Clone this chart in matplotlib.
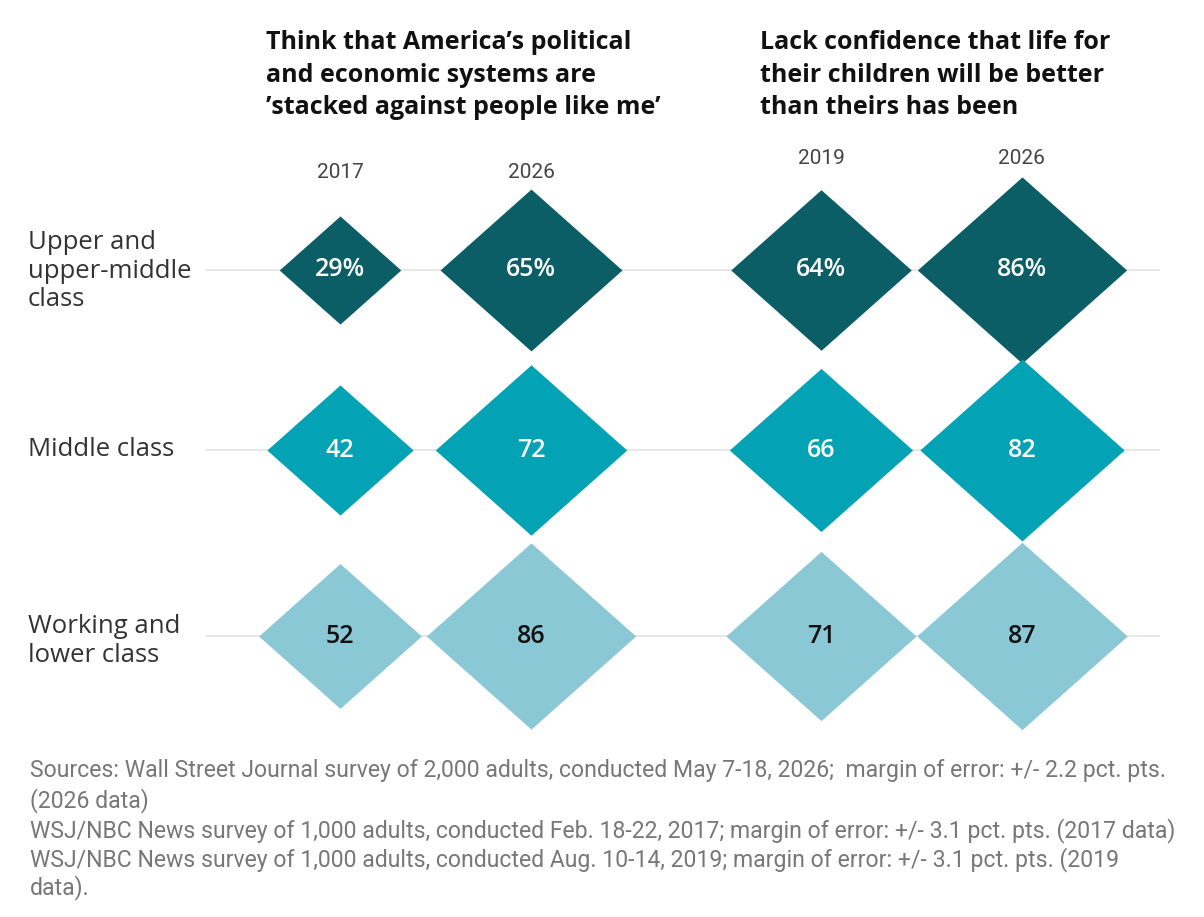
import matplotlib
matplotlib.use("Agg")
import matplotlib.pyplot as plt
from matplotlib.path import Path
import numpy as np

# ---- data ----
rows = ["Upper and\nupper-middle\nclass", "Middle class", "Working and\nlower class"]
col_years = ["2017", "2026", "2019", "2026"]
stacked_2017 = [29, 42, 52]
stacked_2026 = [65, 72, 86]
lackconf_2019 = [64, 66, 71]
lackconf_2026 = [86, 82, 87]
title_left = "Think that America\u2019s political\nand economic systems are\n\u2019stacked against people like me\u2019"
title_right = "Lack confidence that life for\ntheir children will be better\nthan theirs has been"
footnote = [
    "Sources: Wall Street Journal survey of 2,000 adults, conducted May 7-18, 2026;  margin of error: +/- 2.2 pct. pts.",
    "(2026 data)",
    "WSJ/NBC News survey of 1,000 adults, conducted Feb. 18-22, 2017; margin of error: +/- 3.1 pct. pts. (2017 data)",
    "WSJ/NBC News survey of 1,000 adults, conducted Aug. 10-14, 2019; margin of error: +/- 3.1 pct. pts. (2019",
    "data).",
]

# ---- layout / style ----
W, H = 1204, 917
DPI = 100
row_colors = ["#0b5e66", "#03a2b5", "#8bc8d5"]
text_colors = ["white", "white", "#111111"]
col_x = [0.0, 1.0, 2.52, 3.57]
row_y = [0.0, 0.98, 1.99]
px_x0, px_unit_x = 340, 191
px_y0, px_unit_y = 270, 184

SANS = ["Open Sans", "Noto Sans", "DejaVu Sans"]
NARROW = ["Roboto", "DejaVu Sans"]

fig = plt.figure(figsize=(W / DPI, H / DPI), dpi=DPI)
fig.patch.set_facecolor("white")
ax = fig.add_axes([0, 0, 1, 1])
ax.set_xlim((0 - px_x0) / px_unit_x, (W - px_x0) / px_unit_x)
ax.set_ylim((H - px_y0) / px_unit_y, (0 - px_y0) / px_unit_y)
ax.axis("off")

diamond = Path([(-1, 0), (0, 0.89), (1, 0), (0, -0.89), (-1, 0)],
               [Path.MOVETO, Path.LINETO, Path.LINETO, Path.LINETO, Path.CLOSEPOLY])

series = [stacked_2017, stacked_2026, lackconf_2019, lackconf_2026]

# grid lines
for r, y in enumerate(row_y):
    ax.plot([(205 - px_x0) / px_unit_x, (1160 - px_x0) / px_unit_x], [y, y],
            color="#e8e8e8", lw=1.4, zorder=0, solid_capstyle="butt")

size_k = 264.0
for c, vals in enumerate(series):
    for r, v in enumerate(vals):
        ax.scatter([col_x[c]], [row_y[r]], s=size_k * v, marker=diamond,
                   color=row_colors[r], linewidths=0, zorder=2)
        lab = f"{v}%" if r == 0 else f"{v}"
        ax.text(col_x[c], row_y[r], lab, ha="center", va="center",
                fontsize=18, color=text_colors[r], family=SANS,
                fontweight="semibold", zorder=3)

def fx(px):
    return px / W

def fy(py):
    return 1 - py / H

# titles
fig.text(fx(266), fy(75), title_left, ha="left", va="center", fontsize=18,
         fontweight="bold", family=SANS, color="#111111", linespacing=1.37)
fig.text(fx(760), fy(75), title_right, ha="left", va="center", fontsize=18,
         fontweight="bold", family=SANS, color="#111111", linespacing=1.37)

# year labels
year_y = [173, 172, 158, 158]
for c, yr in enumerate(col_years):
    x_px = px_x0 + px_unit_x * col_x[c]
    fig.text(fx(x_px), fy(year_y[c]), yr, ha="center", va="center",
             fontsize=15, family=NARROW, color="#444444")

# row labels
row_label_y = [271, 449, 641]
for r, lab in enumerate(rows):
    fig.text(fx(28), fy(row_label_y[r]), lab, ha="left", va="center",
             fontsize=18.5, family=SANS, color="#333333", linespacing=1.2)

# footnote
foot_y = [771, 801, 831, 860, 888]
for line, y in zip(footnote, foot_y):
    fig.text(fx(30), fy(y), line, ha="left", va="center", fontsize=16.6,
             family=NARROW, color="#777777")

fig.savefig("out.png", dpi=DPI, facecolor="white")
